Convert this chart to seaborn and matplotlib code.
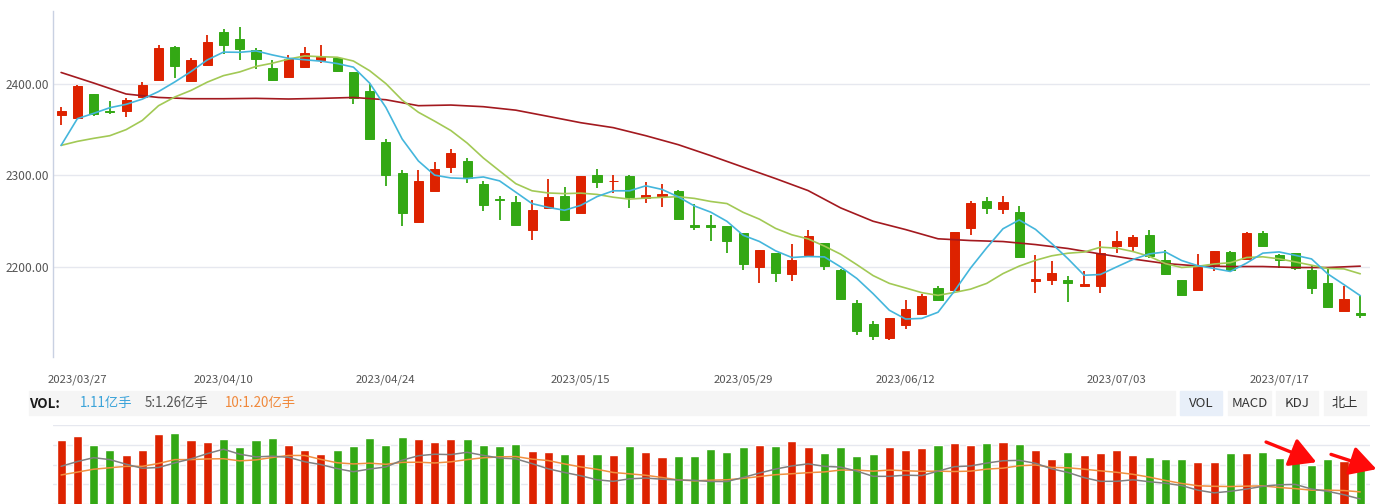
import numpy as np
import pandas as pd
import matplotlib
matplotlib.use("Agg")
import matplotlib.pyplot as plt
from matplotlib.patches import Rectangle
import seaborn as sns

# ---------------- data ----------------
holidays = ["2023-04-05", "2023-05-01", "2023-05-02", "2023-05-03", "2023-06-22", "2023-06-23"]
trade_days = [d for d in pd.bdate_range("2023-03-24", "2023-07-24") if d.strftime("%Y-%m-%d") not in holidays]
date_labels = [d.strftime("%Y/%m/%d") for d in trade_days]
tick_dates = ["2023/03/27", "2023/04/10", "2023/04/24", "2023/05/15",
              "2023/05/29", "2023/06/12", "2023/07/03", "2023/07/17"]
price_ticks = [2200, 2300, 2400]

open_ = [2365.7, 2362.4, 2389.4, 2370.8, 2370.1, 2385.8, 2404.7, 2440.7, 2402.8, 2420.3,
         2457.1, 2449.4, 2436.7, 2417.8, 2407.9, 2418.9, 2426.5, 2428.7, 2413.4, 2392.7,
         2337.0, 2303.1, 2248.9, 2282.7, 2308.9, 2316.2, 2291.1, 2274.8, 2271.5, 2240.9,
         2264.2, 2278.0, 2258.7, 2301.0, 2293.6, 2299.9, 2275.1, 2278.0, 2283.5, 2246.4,
         2246.4, 2245.3, 2237.6, 2200.5, 2215.8, 2191.8, 2213.6, 2226.7, 2197.2, 2160.1,
         2137.2, 2121.9, 2136.1, 2148.1, 2176.5, 2174.3, 2243.1, 2272.6, 2263.8, 2260.6,
         2185.2, 2186.3, 2186.3, 2178.7, 2178.7, 2222.4, 2222.4, 2235.5, 2207.1, 2186.3,
         2174.3, 2202.7, 2216.9, 2208.2, 2237.6, 2213.6, 2215.8, 2197.2, 2182.0, 2151.4,
         2149.2]
close = [2370.8, 2398.1, 2367.5, 2369.7, 2382.8, 2399.2, 2439.6, 2420.0, 2426.5, 2446.2,
         2442.1, 2438.5, 2427.6, 2404.7, 2427.6, 2434.1, 2430.9, 2414.5, 2385.0, 2340.3,
         2301.0, 2258.7, 2294.4, 2307.5, 2325.0, 2297.7, 2267.4, 2272.9, 2245.6, 2262.7,
         2276.9, 2251.8, 2299.9, 2293.3, 2294.4, 2276.9, 2279.1, 2280.2, 2252.9, 2244.2,
         2243.4, 2228.9, 2203.8, 2219.1, 2192.9, 2207.1, 2234.4, 2201.6, 2164.5, 2129.6,
         2124.1, 2143.8, 2153.6, 2167.8, 2163.4, 2238.7, 2270.4, 2264.9, 2271.5, 2211.4,
         2187.4, 2192.9, 2182.0, 2180.9, 2215.8, 2228.9, 2233.3, 2212.5, 2191.8, 2168.9,
         2200.5, 2218.0, 2196.2, 2237.6, 2223.4, 2207.1, 2199.4, 2176.5, 2155.8, 2164.5,
         2147.0]
high = [2374.4, 2399.2, 2389.4, 2381.7, 2384.7, 2402.5, 2442.9, 2441.8, 2428.4, 2453.8,
        2460.3, 2462.5, 2439.6, 2426.5, 2432.0, 2440.7, 2442.9, 2428.7, 2413.4, 2400.3,
        2340.3, 2306.4, 2306.4, 2315.1, 2329.3, 2319.5, 2294.1, 2278.0, 2278.0, 2273.3,
        2296.6, 2287.9, 2299.9, 2307.5, 2301.0, 2301.0, 2293.3, 2291.1, 2284.6, 2269.3,
        2257.3, 2245.3, 2237.6, 2219.1, 2215.8, 2225.6, 2240.9, 2226.7, 2198.3, 2163.4,
        2140.5, 2143.8, 2163.4, 2171.0, 2178.7, 2238.7, 2272.6, 2276.9, 2278.0, 2267.1,
        2213.6, 2206.0, 2189.6, 2195.1, 2228.9, 2239.8, 2235.5, 2240.9, 2219.1, 2186.3,
        2214.7, 2218.0, 2218.0, 2238.7, 2239.8, 2214.7, 2215.8, 2202.7, 2200.5, 2178.7,
        2167.8]
low = [2355.5, 2361.8, 2364.6, 2367.5, 2363.5, 2384.5, 2404.7, 2406.9, 2402.8, 2420.3,
       2432.3, 2426.5, 2416.7, 2403.6, 2407.9, 2418.9, 2423.2, 2413.4, 2378.5, 2340.3,
       2288.9, 2244.5, 2248.9, 2282.7, 2303.1, 2291.5, 2260.9, 2251.8, 2245.6, 2229.2,
       2264.2, 2251.8, 2258.7, 2286.8, 2281.3, 2264.9, 2270.4, 2266.0, 2252.9, 2240.9,
       2228.9, 2215.8, 2197.2, 2182.0, 2184.1, 2185.2, 2212.5, 2196.2, 2163.4, 2125.2,
       2119.7, 2119.7, 2131.7, 2148.1, 2163.4, 2174.3, 2235.5, 2258.4, 2258.4, 2211.4,
       2172.1, 2179.8, 2161.2, 2178.7, 2172.1, 2215.8, 2218.0, 2210.3, 2190.7, 2168.9,
       2174.3, 2195.1, 2196.2, 2208.2, 2222.4, 2199.4, 2197.2, 2171.0, 2154.7, 2151.4,
       2143.8]

# first values of the moving averages (need days before the window)
ma5_head = [2332.9, 2362.1, 2367.9, 2374.1]
ma10_head = [2332.9, 2337.3, 2340.6, 2343.5, 2350.1, 2360.2, 2376.3, 2385.8, 2393.0]
# long moving average, read every second session
ma_long_idx = list(range(0, 81, 2))
ma_long = [2412.6, 2401.1, 2389.1, 2385.3, 2383.9, 2383.9, 2384.3, 2383.6, 2384.3, 2385.3,
           2382.8, 2376.3, 2377.0, 2375.2, 2371.4, 2364.6, 2357.7, 2352.3, 2343.5, 2333.7,
           2321.7, 2309.1, 2296.6, 2283.5, 2264.6, 2250.0, 2240.9, 2230.8, 2228.9, 2227.8,
           2224.5, 2220.2, 2214.2, 2208.7, 2203.8, 2201.1, 2200.5, 2200.5, 2199.4, 2199.4,
           2200.9]

# volume (亿手)
volume = [1.70, 1.78, 1.60, 1.49, 1.39, 1.49, 1.82, 1.84, 1.70, 1.66,
          1.72, 1.56, 1.70, 1.74, 1.60, 1.49, 1.41, 1.49, 1.58, 1.74,
          1.60, 1.76, 1.72, 1.66, 1.72, 1.72, 1.60, 1.58, 1.62, 1.47,
          1.45, 1.41, 1.41, 1.41, 1.39, 1.58, 1.45, 1.35, 1.37, 1.37,
          1.52, 1.45, 1.56, 1.60, 1.58, 1.68, 1.56, 1.43, 1.56, 1.37,
          1.41, 1.56, 1.49, 1.54, 1.60, 1.64, 1.60, 1.64, 1.66, 1.62,
          1.49, 1.31, 1.45, 1.39, 1.43, 1.49, 1.39, 1.35, 1.31, 1.31,
          1.25, 1.25, 1.43, 1.43, 1.45, 1.33, 1.27, 1.19, 1.31, 1.27,
          1.11]
vma5_head = [1.57, 1.62, 1.66, 1.64]
vma10_head = [1.48, 1.51, 1.54, 1.555, 1.57, 1.57, 1.60, 1.64, 1.64]

vol_texts = [("VOL:", "#1a1a1a", True), ("1.11亿手", "#3ba3d9", False),
             ("5:1.26亿手", "#555555", False), ("10:1.20亿手", "#f0883a", False)]
buttons = ["VOL", "MACD", "KDJ", "北上"]

# ---------------- style ----------------
RED = "#dd2200"
GREEN = "#33a814"
C_MA5 = "#44b6dc"
C_MA10 = "#a2c955"
C_MALONG = "#a3191f"
C_VMA5 = "#808080"
C_VMA10 = "#f09040"
GRID = "#e6e8ef"

sns.set_theme(style="white")
plt.rcParams['font.family'] = ['Noto Sans CJK SC', 'DejaVu Sans']

W, H = 1388, 504
fig = plt.figure(figsize=(W / 100, H / 100), dpi=100)


def fx(x):
    return x / W


def fy(y):
    return 1 - y / H


ax = fig.add_axes([fx(53), fy(357), fx(1370) - fx(53), fy(11) - fy(357)])
axv = fig.add_axes([fx(53), fy(524), fx(1370) - fx(53), fy(425) - fy(524)])

n = len(close)
idx = np.arange(n)
o = np.array(open_)
c = np.array(close)
h = np.array(high)
l = np.array(low)
up = c >= o
cols = np.where(up, RED, GREEN)

# ---------------- price panel ----------------
for t in price_ticks:
    ax.axhline(t, color=GRID, lw=1, zorder=0)
ax.vlines(idx, l, h, colors=cols, lw=1.3, zorder=2)
ax.bar(idx, np.abs(c - o), bottom=np.minimum(o, c), width=0.56, color=cols,
       edgecolor=cols, lw=0.7, zorder=3)

ma5 = pd.Series(close).rolling(5).mean()
ma5.iloc[:len(ma5_head)] = ma5_head
ma10 = pd.Series(close).rolling(10).mean()
ma10.iloc[:len(ma10_head)] = ma10_head

sns.lineplot(x=ma_long_idx, y=ma_long, ax=ax, color=C_MALONG, lw=1.2, zorder=4)
sns.lineplot(x=idx, y=ma10.values, ax=ax, color=C_MA10, lw=1.2, zorder=5)
sns.lineplot(x=idx, y=ma5.values, ax=ax, color=C_MA5, lw=1.2, zorder=6)

ax.set_xlim(-0.5, 80.6)
ax.set_ylim(2101.6, 2479.8)
ax.set_yticks(price_ticks)
ax.set_yticklabels([f"{t:.2f}" for t in price_ticks])
ax.set_xticks([date_labels.index(t) for t in tick_dates])
ax.set_xticklabels(tick_dates)
ax.tick_params(axis="y", length=0, pad=2.5, labelsize=8.6, labelcolor="#555555")
ax.tick_params(axis="x", length=0, pad=12.5, labelsize=8.2, labelcolor="#555555")
for s in ["top", "right", "bottom"]:
    ax.spines[s].set_visible(False)
ax.spines["left"].set_color("#c9d1e2")
ax.spines["left"].set_linewidth(1)
ax.set_xlabel("")
ax.set_ylabel("")

# ---------------- VOL header row ----------------
fig.patches.append(Rectangle((fx(29), fy(415)), fx(1175) - fx(29), fy(391) - fy(415),
                             transform=fig.transFigure, color="#f5f5f5", zorder=0))
btn_x = [(1180, 1222), (1228, 1271), (1276, 1318), (1324, 1366)]
for (x0, x1), b in zip(btn_x, buttons):
    bg = "#e8eff9" if b == "VOL" else "#f5f5f5"
    fig.patches.append(Rectangle((fx(x0), fy(415)), fx(x1) - fx(x0), fy(391) - fy(415),
                                 transform=fig.transFigure, color=bg, zorder=0))
    fig.text(fx((x0 + x1) / 2), fy(403.5), b, ha="center", va="center",
             fontsize=9.5, color="#333333")
txt_x = [29, 80, 145, 225]
for xx, (t, col, bold) in zip(txt_x, vol_texts):
    fig.text(fx(xx), fy(403.5), t, ha="left", va="center", fontsize=9.6,
             color=col, fontweight="bold" if bold else "normal")

# ---------------- volume panel ----------------
vdf = pd.DataFrame({"i": idx, "vol": volume, "dir": np.where(up, "up", "down")})
sns.barplot(data=vdf, x="i", y="vol", hue="dir", palette={"up": RED, "down": GREEN},
            dodge=False, width=0.56, native_scale=True, saturation=1, legend=False,
            ax=axv, zorder=3)
axv.set_xlim(-0.5, 80.6)
axv.set_ylim(0, 2.005)
axv.set_yticks([0.4, 0.8, 1.2, 1.6, 2.0])
axv.grid(axis="y", color=GRID, lw=1)
axv.set_axisbelow(True)
axv.tick_params(length=0, labelleft=False, labelbottom=False)
for s in axv.spines.values():
    s.set_visible(False)
axv.set_xlabel("")
axv.set_ylabel("")

vma5 = pd.Series(volume).rolling(5).mean()
vma5.iloc[:len(vma5_head)] = vma5_head
vma10 = pd.Series(volume).rolling(10).mean()
vma10.iloc[:len(vma10_head)] = vma10_head

axm = axv.twinx()
sns.lineplot(x=idx, y=vma10.values, ax=axm, color=C_VMA10, lw=1.1)
sns.lineplot(x=idx, y=vma5.values, ax=axm, color=C_VMA5, lw=1.1)
axm.set_xlim(-0.5, 80.6)
axm.set_ylim(0.97, 2.0)
axm.set_yticks([])
axm.set_ylabel("")
for s in axm.spines.values():
    s.set_visible(False)

arrow_kw = dict(arrowstyle="-|>,head_length=0.9,head_width=0.5", color="#ff0a0a",
                lw=2.4, mutation_scale=18, shrinkA=0, shrinkB=0)
axv.annotate("", xy=(77.3, 1.25), xytext=(74.2, 1.66), arrowprops=arrow_kw,
             annotation_clip=False, zorder=10)
axv.annotate("", xy=(81.0, 1.11), xytext=(78.2, 1.41), arrowprops=arrow_kw,
             annotation_clip=False, zorder=10)

fig.savefig("out.png", dpi=100)
